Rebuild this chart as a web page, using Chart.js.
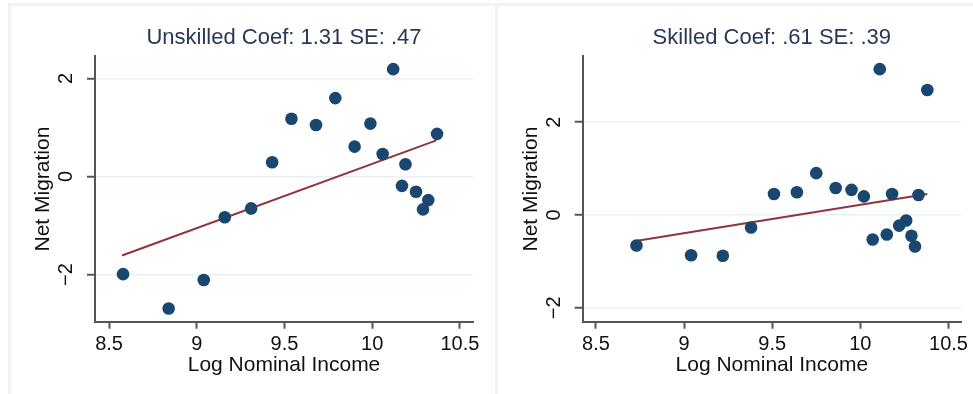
<!DOCTYPE html>
<html>
<head>
<meta charset="utf-8">
<script src="https://cdn.jsdelivr.net/npm/chart.js@4/dist/chart.umd.min.js"></script>
<style>
  body { margin: 0; background: #fff; width: 973px; height: 394px; overflow: hidden; position: relative; }
  .panel { position: absolute; top: 3px; height: 400px; border-top: 3px solid #eef3f4; border-left: 3px solid #eef3f4; }
  canvas { position: absolute; top: 0; }
</style>
</head>
<body>
<div class="panel" style="left:8px; width:485px"></div>
<div class="panel" style="left:495px; width:480px"></div>
<canvas id="unskilledChart" width="490" height="394" style="left:0"></canvas>
<canvas id="skilledChart" width="483" height="394" style="left:490px"></canvas>
<script>
// Unskilled panel
const unskilledIncome = [8.58, 8.84, 9.04, 9.16, 9.31, 9.43, 9.54, 9.68, 9.79, 9.90, 9.99, 10.06, 10.12, 10.17, 10.19, 10.25, 10.29, 10.32, 10.37];
const unskilledMigration = [-1.99, -2.69, -2.11, -0.83, -0.65, 0.29, 1.18, 1.05, 1.60, 0.61, 1.08, 0.46, 2.19, -0.19, 0.25, -0.31, -0.67, -0.48, 0.87];
const unskilledFitX = [8.574, 10.366];
const unskilledFitY = [-1.61, 0.737];

// Skilled panel
const skilledIncome = [8.73, 9.04, 9.22, 9.38, 9.51, 9.64, 9.75, 9.86, 9.95, 10.02, 10.07, 10.11, 10.15, 10.18, 10.22, 10.26, 10.29, 10.31, 10.33, 10.38];
const skilledMigration = [-0.66, -0.87, -0.88, -0.27, 0.45, 0.49, 0.90, 0.58, 0.54, 0.40, -0.53, 3.14, -0.42, 0.45, -0.23, -0.12, -0.45, -0.68, 0.43, 2.69];
const skilledFitX = [8.725, 10.38];
const skilledFitY = [-0.56, 0.45];

const xTicks = [8.5, 9, 9.5, 10, 10.5];
const yTicks = [-2, 0, 2];

Chart.defaults.font.family = "'Liberation Sans', Arial, sans-serif";
Chart.defaults.color = '#111';

const markerColor = '#1a476f';
const fitColor = '#90353b';
const axisColor = '#555';
const gridColor = '#e8f0f2';

function fmt(v) {
    return String(v).replace('-', '\u2212');
}

function makePanel(canvasId, p) {
    const points = p.xs.map((x, i) => ({ x: x, y: p.ys[i] }));
    const fit = p.fitX.map((x, i) => ({ x: x, y: p.fitY[i] }));

    return new Chart(document.getElementById(canvasId), {
        type: 'scatter',
        data: {
            datasets: [{
                data: points,
                backgroundColor: markerColor,
                borderWidth: 0,
                pointRadius: 6.3,
                order: 1
            }, {
                type: 'line',
                data: fit,
                borderColor: fitColor,
                borderWidth: 2,
                pointRadius: 0,
                fill: false,
                order: 2
            }]
        },
        options: {
            responsive: false,
            animation: false,
            layout: { padding: { top: 4, left: 0, right: p.padRight, bottom: 0 } },
            plugins: {
                legend: { display: false },
                tooltip: { enabled: false },
                title: {
                    display: true,
                    text: p.title,
                    fullSize: false,
                    color: '#26395a',
                    font: { size: 22, weight: 'normal' },
                    padding: { top: 21, bottom: 5 }
                }
            },
            scales: {
                x: {
                    type: 'linear',
                    min: p.xMin,
                    max: p.xMax,
                    afterBuildTicks: s => { s.ticks = xTicks.map(v => ({ value: v })); },
                    afterFit: s => { s.height = 72.3; s.paddingLeft = 0; s.paddingRight = 0; },
                    border: { color: axisColor, width: 2 },
                    grid: { drawOnChartArea: false, tickColor: axisColor, tickLength: 7, tickWidth: 2 },
                    ticks: { font: { size: 20 }, padding: 4, callback: v => fmt(v) },
                    title: { display: true, text: 'Log Nominal Income', font: { size: 21 }, padding: { top: 0, bottom: 16 } }
                },
                y: {
                    type: 'linear',
                    min: p.yMin,
                    max: p.yMax,
                    afterBuildTicks: s => { s.ticks = yTicks.map(v => ({ value: v })); },
                    afterFit: s => { s.width = p.yWidth; s.paddingTop = 0; s.paddingBottom = 0; },
                    border: { color: axisColor, width: 2 },
                    grid: { color: gridColor, lineWidth: 1.5, tickColor: axisColor, tickLength: 8, tickWidth: 2 },
                    ticks: { font: { size: 20 }, padding: 9, minRotation: 90, maxRotation: 90, crossAlign: 'center', callback: v => fmt(v) },
                    title: { display: true, text: 'Net Migration', font: { size: 21 }, padding: { top: p.yTitlePad, bottom: 0 } }
                }
            }
        }
    });
}

makePanel('unskilledChart', {
    title: 'Unskilled Coef: 1.31 SE: .47',
    xs: unskilledIncome, ys: unskilledMigration,
    fitX: unskilledFitX, fitY: unskilledFitY,
    xMin: 8.42, xMax: 10.575, yMin: -2.96, yMax: 2.45,
    yWidth: 95, padRight: 17, yTitlePad: 30.7
});

makePanel('skilledChart', {
    title: 'Skilled Coef: .61 SE: .39',
    xs: skilledIncome, ys: skilledMigration,
    fitX: skilledFitX, fitY: skilledFitY,
    xMin: 8.425, xMax: 10.571, yMin: -2.3, yMax: 3.415,
    yWidth: 92.7, padRight: 12, yTitlePad: 28.4
});
</script>
</body>
</html>
